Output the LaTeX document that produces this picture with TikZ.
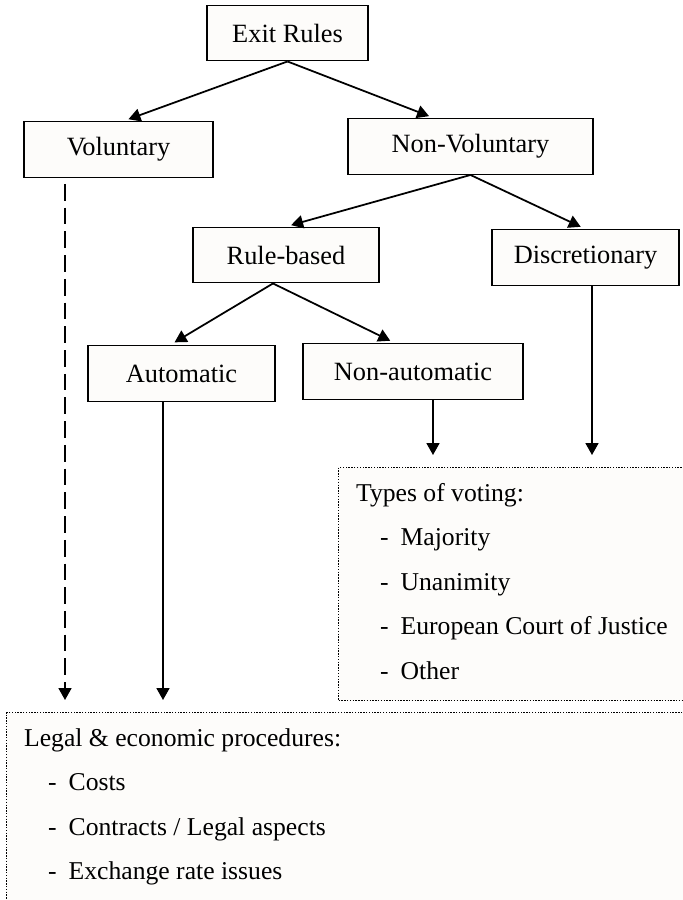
\documentclass[tikz,border=0pt]{standalone}
\usepackage{fontspec}
\setmainfont{Liberation Serif}
\usepackage{tikz}
\usetikzlibrary{arrows.meta,positioning}
\definecolor{boxcream}{HTML}{FDFCFA}
\newcommand{\dashitem}[1]{\hspace*{0.48cm}-\hspace{0.24cm}#1}

\begin{document}
\begin{tikzpicture}[
    on grid,
    every node/.style={align=center, font=\fontsize{15}{18}\selectfont},
    rulebox/.style={draw, line width=0.8pt, fill=boxcream, minimum height=1.11cm},
    listbox/.style={draw, line width=0.7pt, dash pattern=on 0.8pt off 0.8pt, fill=boxcream, anchor=north west,
        inner xsep=0.35cm, inner ysep=9pt, font=\fontsize{14.6}{25.3}\selectfont},
    arrow/.style={-{Triangle[length=0.24cm, width=0.26cm]}, line width=1pt},
    dasharrow/.style={arrow, dash pattern=on 9.5pt off 4pt}
]
    \clip (0,0) rectangle (13.66,-18);

    \node[rulebox, minimum width=3.22cm] (exit) at (5.75,-0.66) {Exit Rules};
    \node[rulebox, minimum width=3.78cm, below left=2.33cm and 3.38cm of exit] (vol) {Voluntary};
    \node[rulebox, minimum width=4.9cm, below right=2.27cm and 3.66cm of exit] (nonvol) {Non-Voluntary};
    \node[rulebox, minimum width=3.72cm, below left=2.17cm and 3.69cm of nonvol] (rule) {Rule-based};
    \node[rulebox, minimum width=3.74cm, below right=2.22cm and 2.3cm of nonvol] (disc) {Discretionary};
    \node[rulebox, minimum width=3.74cm, below left=2.37cm and 2.09cm of rule] (auto) {Automatic};
    \node[rulebox, minimum width=4.4cm, below right=2.33cm and 2.54cm of rule] (nonauto) {Non-automatic};

    \node[listbox] (types) at (6.76,-9.34) {\begin{minipage}[t][4.03cm][t]{6.5cm}\raggedright
        Types of voting:\\
        \dashitem{Majority}\\
        \dashitem{Unanimity}\\
        \dashitem{European Court of Justice}\\
        \dashitem{Other}
    \end{minipage}};
    \node[listbox] (legal) at (0.12,-14.24) {\begin{minipage}[t][6cm][t]{13.2cm}\raggedright
        Legal \& economic procedures:\\
        \dashitem{Costs}\\
        \dashitem{Contracts / Legal aspects}\\
        \dashitem{Exchange rate issues}
    \end{minipage}};

    \draw[arrow, shorten >=3pt] (exit.south) -- ([xshift=0.1cm]vol.north);
    \draw[arrow, shorten >=3pt] (exit.south) -- ([xshift=-0.73cm]nonvol.north);
    \draw[arrow, shorten >=3pt] (nonvol.south) -- (rule.north);
    \draw[arrow, shorten >=3pt] (nonvol.south) -- (disc.north);
    \draw[arrow, shorten >=3pt] ([xshift=-0.26cm]rule.south) -- ([xshift=-0.23cm]auto.north);
    \draw[arrow, shorten >=3pt] ([xshift=-0.26cm]rule.south) -- ([xshift=-0.36cm]nonauto.north);

    % feet of the vertical connectors
    \coordinate (volfoot) at ([xshift=-1.07cm]vol.south);
    \coordinate (autofoot) at ([xshift=-0.37cm]auto.south);
    \coordinate (nafoot) at ([xshift=0.4cm]nonauto.south);
    \coordinate (discfoot) at ([xshift=0.13cm]disc.south);

    \draw[dasharrow, shorten <=0.12cm, shorten >=0.24cm] (volfoot) -- (volfoot |- legal.north);
    \draw[arrow, shorten >=0.24cm] (autofoot) -- (autofoot |- legal.north);
    \draw[arrow, shorten >=0.24cm] (nafoot) -- (nafoot |- types.north);
    \draw[arrow, shorten >=0.24cm] (discfoot) -- (discfoot |- types.north);
\end{tikzpicture}
\end{document}
